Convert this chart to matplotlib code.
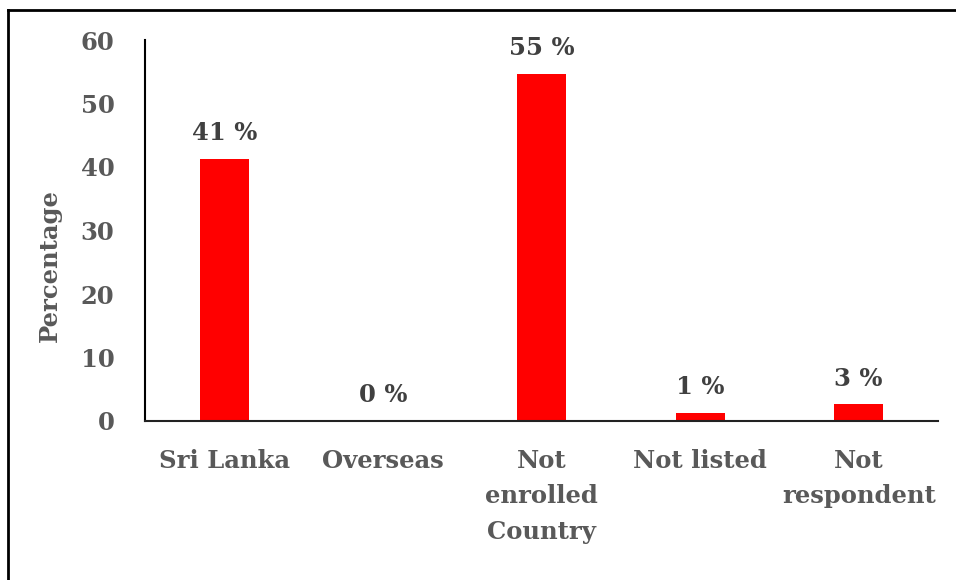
import matplotlib
matplotlib.use("Agg")
import matplotlib.pyplot as plt
from matplotlib.lines import Line2D

categories = ["Sri Lanka", "Overseas", "Not\nenrolled\nCountry", "Not listed", "Not\nrespondent"]
values = [41.3, 0.0, 54.7, 1.3, 2.6]
value_labels = ["41 %", "0 %", "55 %", "1 %", "3 %"]
yticks = [0, 10, 20, 30, 40, 50, 60]

plt.rcParams['font.family'] = ['DejaVu Serif']
plt.rcParams['font.weight'] = 'bold'

fig = plt.figure(figsize=(9.56, 5.8), dpi=100)
ax = fig.add_axes([145/956, 1 - 421/580, (938-145)/956, (421-40)/580])

x = list(range(len(categories)))
ax.bar(x, values, width=0.31, color="#ff0000")
ax.set_xlim(-0.5, len(categories) - 0.5)
ax.set_ylim(0, 60)
ax.set_yticks(yticks)
ax.set_yticklabels([str(t) for t in yticks], fontsize=17.5, color="#595959", fontweight='bold')
ax.set_xticks(x)
ax.set_xticklabels(categories, fontsize=17.5, color="#595959", fontweight='bold', linespacing=1.6)
ax.tick_params(axis='both', length=0)
ax.tick_params(axis='y', pad=22)
ax.tick_params(axis='x', pad=20)
for s in ["top", "right"]:
    ax.spines[s].set_visible(False)
ax.spines["left"].set_color("black")
ax.spines["left"].set_linewidth(1.5)
ax.spines["bottom"].set_color("#222222")
ax.spines["bottom"].set_linewidth(1.5)

for xi, v, lab in zip(x, values, value_labels):
    ax.annotate(lab, (xi, v), xytext=(0, 10), textcoords="offset points",
                ha="center", va="bottom", fontsize=17.5, color="#404040", fontweight='bold')

ax.set_ylabel("Percentage", fontsize=17.5, color="#595959", fontweight='bold')
ax.yaxis.set_label_coords(-(145-62)/793, (421-266)/381)

# partial outer frame (top and left edges only)
fig.add_artist(Line2D([8/956, 1.0], [1 - 10/580, 1 - 10/580], transform=fig.transFigure,
                      color="black", linewidth=2))
fig.add_artist(Line2D([8/956, 8/956], [0.0, 1 - 10/580], transform=fig.transFigure,
                      color="black", linewidth=2))

fig.savefig("out.png", dpi=100)
